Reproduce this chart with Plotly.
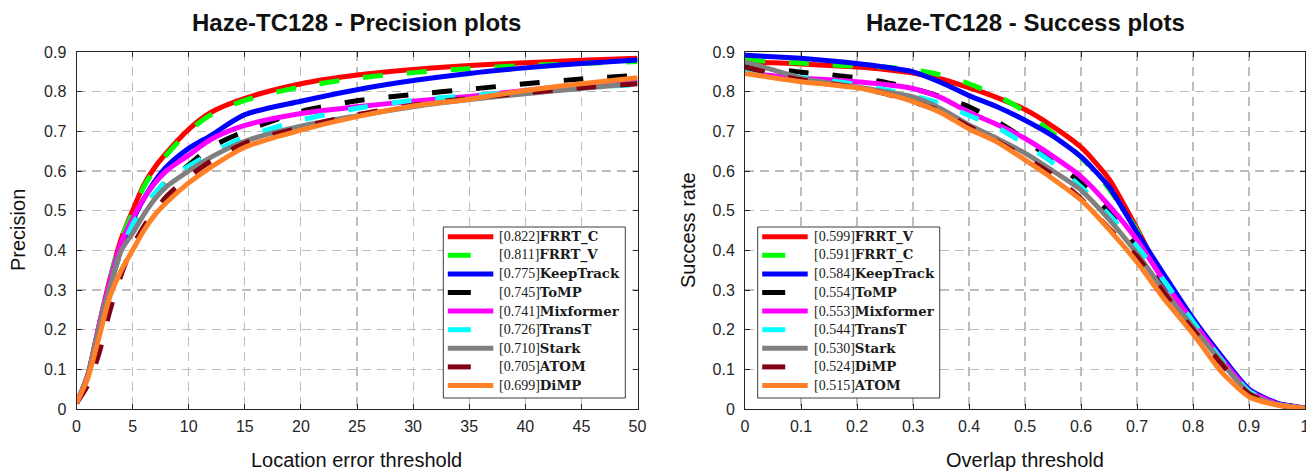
import plotly.graph_objects as go

# ---------------- data ----------------
thr_prec = [0, 1, 2, 3, 4, 5, 6, 7, 8, 10, 12, 15, 20, 25, 30, 35, 40, 45, 50]
prec_names = ["FRRT_C", "FRRT_V", "KeepTrack", "ToMP", "Mixformer", "TransT", "Stark", "ATOM", "DiMP"]
prec_scores = ["0.822", "0.811", "0.775", "0.745", "0.741", "0.726", "0.710", "0.705", "0.699"]
prec_frrt_c = [0.015, 0.085, 0.21, 0.33, 0.43, 0.50, 0.565, 0.61, 0.645, 0.705, 0.748, 0.783, 0.820, 0.842, 0.856, 0.866, 0.873, 0.879, 0.884]
prec_frrt_v = [0.015, 0.085, 0.21, 0.33, 0.43, 0.495, 0.56, 0.605, 0.64, 0.70, 0.742, 0.778, 0.812, 0.834, 0.848, 0.858, 0.866, 0.871, 0.876]
prec_keeptrack = [0.015, 0.08, 0.20, 0.32, 0.41, 0.475, 0.53, 0.575, 0.61, 0.657, 0.69, 0.742, 0.776, 0.805, 0.828, 0.846, 0.860, 0.871, 0.880]
prec_tomp = [0.015, 0.08, 0.20, 0.31, 0.40, 0.46, 0.50, 0.54, 0.57, 0.615, 0.66, 0.70, 0.750, 0.777, 0.793, 0.806, 0.820, 0.832, 0.841]
prec_mixformer = [0.015, 0.085, 0.21, 0.325, 0.42, 0.48, 0.53, 0.57, 0.60, 0.64, 0.68, 0.715, 0.745, 0.762, 0.776, 0.788, 0.803, 0.818, 0.830]
prec_transt = [0.015, 0.08, 0.20, 0.31, 0.40, 0.465, 0.51, 0.545, 0.575, 0.612, 0.645, 0.685, 0.728, 0.758, 0.778, 0.790, 0.800, 0.810, 0.818]
prec_stark = [0.015, 0.085, 0.205, 0.31, 0.40, 0.443, 0.49, 0.53, 0.56, 0.60, 0.635, 0.675, 0.713, 0.739, 0.762, 0.780, 0.795, 0.808, 0.821]
prec_atom = [0.015, 0.06, 0.14, 0.25, 0.34, 0.41, 0.46, 0.50, 0.535, 0.585, 0.625, 0.67, 0.710, 0.742, 0.766, 0.783, 0.797, 0.810, 0.820]
prec_dimp = [0.015, 0.078, 0.18, 0.285, 0.35, 0.40, 0.45, 0.49, 0.52, 0.57, 0.61, 0.66, 0.703, 0.737, 0.764, 0.781, 0.803, 0.820, 0.835]
prec_values = [prec_frrt_c, prec_frrt_v, prec_keeptrack, prec_tomp, prec_mixformer,
               prec_transt, prec_stark, prec_atom, prec_dimp]

thr_succ = [0, 0.05, 0.1, 0.15, 0.2, 0.25, 0.3, 0.35, 0.4, 0.45, 0.5,
            0.55, 0.6, 0.65, 0.7, 0.75, 0.8, 0.85, 0.9, 0.95, 1.0]
succ_names = ["FRRT_V", "FRRT_C", "KeepTrack", "ToMP", "Mixformer", "TransT", "Stark", "DiMP", "ATOM"]
succ_scores = ["0.599", "0.591", "0.584", "0.554", "0.553", "0.544", "0.530", "0.524", "0.515"]
succ_frrt_v = [0.875, 0.873, 0.870, 0.866, 0.862, 0.856, 0.847, 0.832, 0.810, 0.785, 0.755, 0.712, 0.660, 0.580, 0.455, 0.320, 0.225, 0.130, 0.048, 0.014, 0.002]
succ_frrt_c = [0.880, 0.876, 0.872, 0.868, 0.864, 0.862, 0.855, 0.842, 0.820, 0.790, 0.750, 0.695, 0.635, 0.555, 0.450, 0.325, 0.220, 0.130, 0.047, 0.014, 0.002]
succ_keeptrack = [0.892, 0.888, 0.884, 0.878, 0.871, 0.862, 0.850, 0.823, 0.790, 0.762, 0.728, 0.688, 0.636, 0.560, 0.445, 0.335, 0.228, 0.135, 0.050, 0.015, 0.003]
succ_tomp = [0.865, 0.858, 0.849, 0.843, 0.835, 0.824, 0.808, 0.787, 0.762, 0.725, 0.680, 0.625, 0.570, 0.497, 0.410, 0.310, 0.215, 0.125, 0.045, 0.012, 0.002]
succ_mixformer = [0.848, 0.840, 0.834, 0.830, 0.825, 0.818, 0.808, 0.785, 0.748, 0.717, 0.682, 0.637, 0.586, 0.513, 0.426, 0.318, 0.220, 0.128, 0.046, 0.013, 0.002]
succ_transt = [0.855, 0.848, 0.836, 0.828, 0.818, 0.805, 0.790, 0.770, 0.740, 0.710, 0.668, 0.620, 0.560, 0.490, 0.410, 0.320, 0.220, 0.125, 0.045, 0.012, 0.002]
succ_stark = [0.875, 0.855, 0.834, 0.822, 0.812, 0.800, 0.787, 0.757, 0.716, 0.682, 0.645, 0.600, 0.552, 0.478, 0.392, 0.295, 0.207, 0.120, 0.040, 0.011, 0.002]
succ_dimp = [0.862, 0.845, 0.830, 0.820, 0.810, 0.795, 0.774, 0.750, 0.712, 0.675, 0.635, 0.590, 0.530, 0.455, 0.384, 0.290, 0.200, 0.115, 0.038, 0.010, 0.002]
succ_atom = [0.846, 0.835, 0.825, 0.818, 0.810, 0.795, 0.775, 0.747, 0.706, 0.673, 0.628, 0.580, 0.527, 0.453, 0.370, 0.275, 0.190, 0.095, 0.031, 0.010, 0.002]
succ_values = [succ_frrt_v, succ_frrt_c, succ_keeptrack, succ_tomp, succ_mixformer,
               succ_transt, succ_stark, succ_dimp, succ_atom]

prec_ticks = [0, 5, 10, 15, 20, 25, 30, 35, 40, 45, 50]
succ_ticks = [0, 0.1, 0.2, 0.3, 0.4, 0.5, 0.6, 0.7, 0.8, 0.9, 1]
succ_ticktext = ["0", "0.1", "0.2", "0.3", "0.4", "0.5", "0.6", "0.7", "0.8", "0.9", "1"]
y_ticks = [0, 0.1, 0.2, 0.3, 0.4, 0.5, 0.6, 0.7, 0.8, 0.9]
y_ticktext = ["0", "0.1", "0.2", "0.3", "0.4", "0.5", "0.6", "0.7", "0.8", "0.9"]

# ---------------- styles ----------------
colors = ["#FF0000", "#00FF00", "#0000FF", "#000000", "#FF00FF",
          "#00FFFF", "#808080", "#800014", "#FF8027"]
is_dashed = [False, True, False, True, False, True, False, True, False]
DASH = "20px,24px"

W, H = 1306, 471
def px(x):
    return x / W
def py(y):
    return 1 - y / H

fig = go.Figure()
for i in range(9):
    fig.add_trace(go.Scatter(
        x=thr_prec, y=prec_values[i], mode="lines", showlegend=False,
        line=dict(color=colors[i], width=5, dash=DASH if is_dashed[i] else "solid",
                  shape="spline", smoothing=0.8),
        name=prec_names[i], xaxis="x", yaxis="y"))
for i in range(9):
    fig.add_trace(go.Scatter(
        x=thr_succ, y=succ_values[i], mode="lines", showlegend=False,
        line=dict(color=colors[i], width=5, dash=DASH if is_dashed[i] else "solid",
                  shape="spline", smoothing=0.6),
        name=succ_names[i], xaxis="x2", yaxis="y2"))

AXC = "#262626"
tickfont = dict(family="Liberation Sans, Arial, sans-serif", size=16, color=AXC)
common_axis = dict(showline=True, linecolor=AXC, linewidth=1, mirror="ticks",
                   ticks="inside", ticklen=5, tickcolor=AXC, tickwidth=1,
                   showgrid=True, gridcolor="#BDBDBD", gridwidth=1.2, griddash="9px,6px",
                   zeroline=False, tickfont=tickfont, automargin=False,
                   ticklabeloverflow="allow")

L1, R1 = 76.5, 637.5
L2, R2 = 745, 1305
TOP, BOT = 52, 409

fig.update_layout(
    width=W, height=H, margin=dict(l=0, r=0, t=0, b=0),
    paper_bgcolor="white", plot_bgcolor="white", showlegend=False,
    xaxis=dict(domain=[px(L1), px(R1)], range=[0, 50], tickvals=prec_ticks, anchor="y",
               ticklabelstandoff=3, **common_axis),
    yaxis=dict(domain=[py(BOT), py(TOP)], range=[0, 0.9], tickvals=y_ticks, ticktext=y_ticktext,
               anchor="x", ticklabelstandoff=6, **common_axis),
    xaxis2=dict(domain=[px(L2), px(R2)], range=[0, 1], tickvals=succ_ticks, ticktext=succ_ticktext,
                anchor="y2", ticklabelstandoff=3, **common_axis),
    yaxis2=dict(domain=[py(BOT), py(TOP)], range=[0, 0.9], tickvals=y_ticks, ticktext=y_ticktext,
                anchor="x2", ticklabelstandoff=6, **common_axis),
)

title_font = dict(family="Liberation Sans, Arial, sans-serif", size=24, color="#111111")
label_font = dict(family="Liberation Sans, Arial, sans-serif", size=20, color="#111111")
ann = [
    dict(text="<b>Haze-TC128 - Precision plots</b>", x=px((L1 + R1) / 2), y=py(23), font=title_font),
    dict(text="<b>Haze-TC128 - Success plots</b>", x=px((L2 + R2) / 2), y=py(23), font=title_font),
    dict(text="Location error threshold", x=px((L1 + R1) / 2), y=py(460), font=label_font),
    dict(text="Overlap threshold", x=px((L2 + R2) / 2), y=py(460), font=label_font),
    dict(text="Precision", x=px(18), y=py(230), font=label_font, textangle=-90),
    dict(text="Success rate", x=px(688), y=py(230), font=label_font, textangle=-90),
]
for a in ann:
    fig.add_annotation(xref="paper", yref="paper", xanchor="center", yanchor="middle",
                       showarrow=False, **a)

# ---------------- legends (drawn boxes, samples and text) ----------------
LEG_TOP, LEG_BOT = 227, 398
ROW0, ROW_STEP = 236.7, 18.6
leg_font = dict(family="Liberation Serif, Times New Roman, serif", size=14, color="#1a1a1a")

def draw_legend(box_left, box_width, names, scores):
    fig.add_shape(type="rect", xref="paper", yref="paper", layer="above",
                  x0=px(box_left), x1=px(box_left + box_width), y0=py(LEG_BOT), y1=py(LEG_TOP),
                  line=dict(color="#3C3C3C", width=1), fillcolor="white")
    s0 = box_left + 4.5
    for i in range(9):
        yc = py(ROW0 + ROW_STEP * i)
        s1 = s0 + (23 if is_dashed[i] else 45.5)
        fig.add_shape(type="line", xref="paper", yref="paper", layer="above",
                      x0=px(s0), x1=px(s1), y0=yc, y1=yc,
                      line=dict(color=colors[i], width=5))
        fig.add_annotation(xref="paper", yref="paper", x=px(s0 + 49.5), y=yc,
                           xanchor="left", yanchor="middle", showarrow=False,
                           text="[" + scores[i] + "]<span style=\"font-family:'DejaVu Serif';font-size:13.3px;font-weight:bold\">"
                                + names[i] + "</span>",
                           font=leg_font)

draw_legend(443.3, 182, prec_names, prec_scores)
draw_legend(757.7, 182, succ_names, succ_scores)

fig.write_html("out.html", config={"displayModeBar": False, "staticPlot": True},
               post_script="document.body.style.margin='0px';document.documentElement.style.overflow='hidden';")
